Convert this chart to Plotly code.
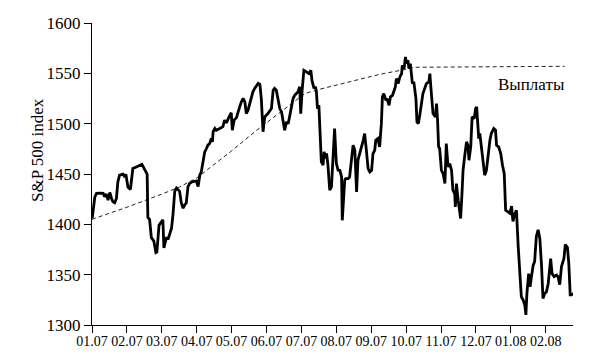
import plotly.graph_objects as go

# Time axis: months elapsed since the start of January 2007 (tick "01.07" = 0)
t_month = [
    0.00, 0.01, 0.08, 0.13, 0.22, 0.32, 0.36, 0.41, 0.46, 0.51, 0.56, 0.60, 0.65, 0.70, 0.74, 0.79,
    0.89, 0.94, 0.97, 1.03, 1.10, 1.17, 1.27, 1.37, 1.43, 1.51, 1.58, 1.60, 1.65, 1.70, 1.77, 1.83,
    1.86, 1.92, 1.99, 2.03, 2.06, 2.13, 2.18, 2.23, 2.28, 2.32, 2.37, 2.42, 2.51, 2.56, 2.61, 2.66,
    2.70, 2.75, 2.80, 2.89, 2.99, 3.04, 3.09, 3.13, 3.18, 3.23, 3.28, 3.32, 3.37, 3.42, 3.45, 3.47,
    3.52, 3.56, 3.66, 3.75, 3.80, 3.85, 3.95, 3.99, 4.02, 4.07, 4.14, 4.18, 4.23, 4.28, 4.33, 4.38,
    4.42, 4.47, 4.52, 4.57, 4.61, 4.66, 4.71, 4.76, 4.81, 4.85, 4.90, 4.95, 5.04, 5.14, 5.19, 5.23,
    5.28, 5.33, 5.38, 5.43, 5.47, 5.52, 5.57, 5.62, 5.66, 5.71, 5.76, 5.81, 5.86, 5.90, 5.95, 5.98,
    6.02, 6.07, 6.14, 6.21, 6.27, 6.30, 6.36, 6.40, 6.43, 6.46, 6.50, 6.52, 6.55, 6.57, 6.62, 6.65,
    6.69, 6.72, 6.76, 6.81, 6.86, 6.91, 6.95, 7.00, 7.05, 7.10, 7.15, 7.17, 7.21, 7.24, 7.27, 7.34,
    7.38, 7.43, 7.48, 7.53, 7.58, 7.62, 7.67, 7.72, 7.77, 7.81, 7.86, 7.91, 7.96, 8.01, 8.05, 8.10,
    8.13, 8.19, 8.24, 8.29, 8.32, 8.36, 8.42, 8.45, 8.51, 8.55, 8.61, 8.64, 8.69, 8.72, 8.77, 8.82,
    8.87, 8.89, 8.94, 8.98, 9.01, 9.05, 9.08, 9.12, 9.18, 9.22, 9.28, 9.31, 9.35, 9.39, 9.44, 9.48,
    9.53, 9.58, 9.65, 9.68, 9.70, 9.72, 9.74, 9.77, 9.84, 9.87, 9.90, 9.93, 9.96, 10.01, 10.06, 10.11,
    10.15, 10.20, 10.25, 10.30, 10.34, 10.39, 10.41, 10.44, 10.49, 10.52, 10.56, 10.60, 10.63, 10.68, 10.73, 10.77,
    10.80, 10.85, 10.89, 10.95, 10.99, 11.02, 11.06, 11.08, 11.11, 11.16, 11.20, 11.25, 11.30, 11.35, 11.40, 11.44,
    11.51, 11.56, 11.59, 11.65, 11.71, 11.76, 11.81, 11.85, 11.92, 11.97, 12.02, 12.06, 12.11, 12.16, 12.21, 12.25,
    12.30, 12.35, 12.40, 12.43, 12.46, 12.51, 12.55, 12.59, 12.64, 12.68, 12.73, 12.78, 12.83, 12.88, 12.92, 12.97,
    13.02, 13.07, 13.11, 13.14, 13.18, 13.24, 13.31, 13.35, 13.40, 13.45, 13.52, 13.56, 13.62, 13.66, 13.70, 13.74,
    13.81,
]

sp500 = [
    1406, 1407, 1427, 1430.7, 1431, 1430.7, 1427.4, 1430, 1424, 1431.6, 1425.7, 1422.4, 1421.4, 1425.7, 1442, 1448.8,
    1449.8, 1447, 1449.8, 1437, 1434.6, 1455.4, 1457, 1458.7, 1459.7, 1454.4, 1449.8, 1406.8, 1405, 1386.8, 1383.5, 1372,
    1372.6, 1399, 1403, 1404.6, 1376.6, 1387, 1385, 1391, 1396.5, 1409.7, 1432.8, 1436, 1432.8, 1421, 1416, 1419.6,
    1421, 1437.5, 1440.8, 1442.5, 1443, 1437.5, 1449, 1452, 1463.8, 1472, 1475.3, 1478.7, 1480.3, 1485.3, 1482, 1492,
    1495.2, 1493.5, 1495.2, 1497, 1503.5, 1500.8, 1508.4, 1510.8, 1493.5, 1503.5, 1506, 1511.8, 1516.7, 1521.7, 1525, 1521.7,
    1510, 1513.4, 1520, 1528.3, 1531.6, 1535, 1537, 1540, 1539, 1525, 1492, 1506.8, 1510, 1515, 1533.2, 1535,
    1533.2, 1523.3, 1515, 1511.7, 1503.5, 1493.5, 1501.8, 1500, 1506.8, 1515, 1525, 1528.3, 1530, 1531.6, 1536.6, 1510,
    1533.2, 1553, 1551.5, 1549.8, 1553, 1543.2, 1535, 1536.6, 1531.6, 1515, 1518.3, 1505, 1475.3, 1462, 1458.8, 1472,
    1465.4, 1470.4, 1458.8, 1434, 1437.3, 1468.7, 1495.2, 1460.4, 1453.8, 1453.7, 1447, 1404, 1424, 1443.8, 1445.5, 1445.5,
    1447, 1463.7, 1478.6, 1473.6, 1432.2, 1463.7, 1471.9, 1476.9, 1483.5, 1490.2, 1473.6, 1455.4, 1452.1, 1453.7, 1470.3, 1473.6,
    1483.5, 1485.2, 1476.9, 1500, 1526.6, 1529.9, 1523.3, 1524.9, 1518.3, 1526.6, 1528.2, 1531.5, 1536.5, 1544.8, 1539.8, 1546.4,
    1549.7, 1558, 1554.7, 1566.3, 1559.7, 1563, 1554.7, 1559.7, 1539.8, 1541.5, 1524.9, 1501.7, 1500.1, 1508.4, 1518.3, 1529.9,
    1534.8, 1539.8, 1541.5, 1549.7, 1539.8, 1529.9, 1516.6, 1510, 1506.7, 1520, 1503.4, 1476.9, 1475.3, 1453.7, 1450.4, 1440.5,
    1480.2, 1457, 1460.4, 1453.7, 1433.9, 1430.6, 1417.3, 1440.5, 1424, 1417.3, 1405.8, 1430.6, 1453.7, 1468.6, 1481.9, 1478.6,
    1463.7, 1476.9, 1506.7, 1505, 1515, 1516.6, 1490.2, 1485.2, 1490.2, 1473.6, 1467, 1448.8, 1453.7, 1470.3, 1483.5, 1490.2,
    1495.1, 1493.5, 1478.6, 1476.9, 1470.3, 1458.7, 1450.4, 1414, 1412, 1411, 1418, 1403, 1410, 1414, 1378, 1351,
    1328, 1325, 1319.8, 1310, 1331.4, 1351, 1338, 1348, 1359.5, 1362.8, 1388, 1394.5, 1386, 1358, 1326.4, 1331.4,
    1333, 1341.3, 1353, 1366, 1351, 1348, 1349.6, 1348, 1340, 1358, 1366, 1380, 1377, 1361, 1330, 1330,
    1331.4,
]

# Payout curve (dashed)
payout_month = [0, 1, 2, 2.5, 3, 4, 4.7, 5.5, 6.1, 6.5, 7.2, 8.24, 9.0, 9.2, 13.54]
payout_value = [1405, 1417, 1430, 1437, 1446, 1473, 1493, 1514, 1530, 1534, 1540, 1549, 1554, 1556, 1557]

tick_labels = ["01.07", "02.07", "03.07", "04.07", "05.07", "06.07", "07.07",
               "08.07", "09.07", "10.07", "11.07", "12.07", "01.08", "02.08"]
tick_positions = list(range(len(tick_labels)))
y_ticks = [1300, 1350, 1400, 1450, 1500, 1550, 1600]

FONT = "Liberation Serif, Times New Roman, serif"

fig = go.Figure()
fig.add_trace(go.Scatter(
    x=payout_month, y=payout_value, mode="lines",
    line=dict(color="#222222", width=1, dash="4px,3px"),
    hoverinfo="skip", showlegend=False,
))
fig.add_trace(go.Scatter(
    x=t_month, y=sp500, mode="lines",
    line=dict(color="black", width=2.8),
    showlegend=False,
))

fig.add_annotation(
    x=12.6, y=1539, xref="x", yref="y", text="Выплаты", showarrow=False,
    font=dict(family=FONT, size=17, color="black"), xanchor="center", yanchor="middle",
)
fig.add_annotation(
    x=-0.112, y=0.58, xref="paper", yref="paper", text="S&P 500 index", showarrow=False,
    textangle=-90, font=dict(family=FONT, size=17, color="black"),
    xanchor="center", yanchor="middle",
)

fig.update_layout(
    width=604, height=356,
    margin=dict(l=92, r=31, t=23, b=31, pad=0, autoexpand=False),
    paper_bgcolor="white", plot_bgcolor="white",
    font=dict(family=FONT, color="black"),
    xaxis=dict(
        range=[0, 13.78], tickmode="array", tickvals=tick_positions, ticktext=tick_labels,
        showline=True, linecolor="black", linewidth=1, ticks="outside", ticklen=7,
        tickcolor="black", tickwidth=1, showgrid=False, zeroline=False, automargin=False,
        ticklabelstandoff=-4,
        tickfont=dict(family=FONT, size=14, color="black"),
    ),
    yaxis=dict(
        range=[1300, 1600], tickmode="array", tickvals=y_ticks,
        showline=True, linecolor="black", linewidth=1, ticks="outside", ticklen=7,
        tickcolor="black", tickwidth=1, showgrid=False, zeroline=False, automargin=False,
        tickfont=dict(family=FONT, size=17, color="black"),
    ),
)

fig.write_html("out.html")
